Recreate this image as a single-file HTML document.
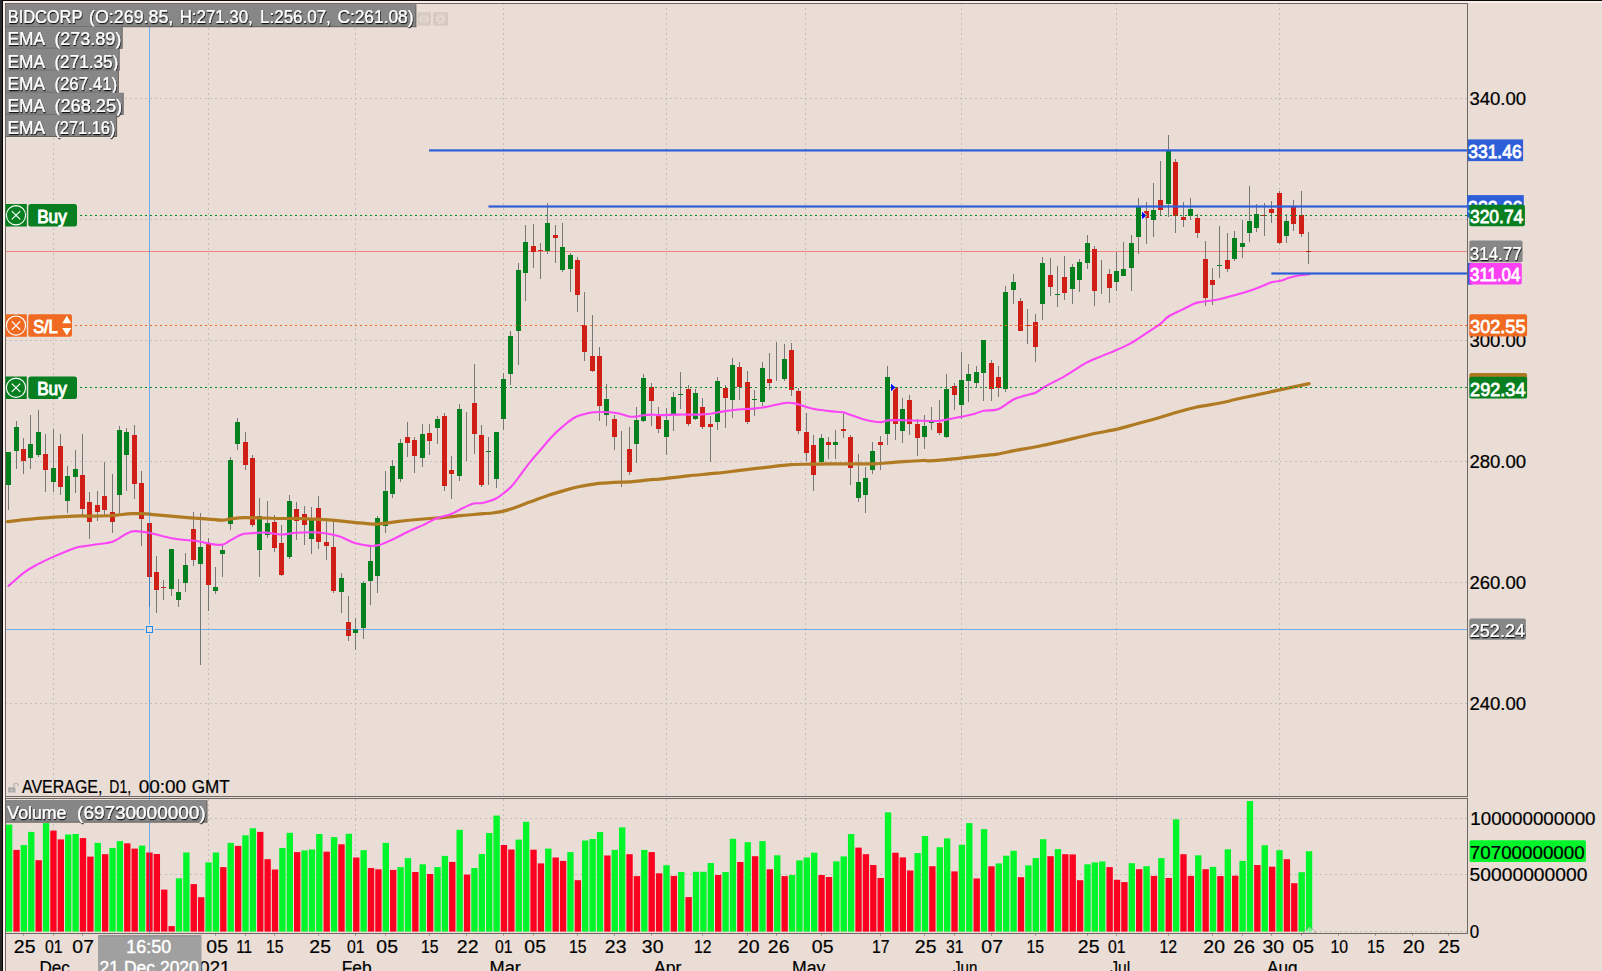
<!DOCTYPE html>
<html lang="en"><head><meta charset="utf-8"><title>BIDCORP chart</title>
<style>html,body{margin:0;padding:0;background:#E9DDD5;overflow:hidden}svg{display:block}</style></head>
<body>
<svg width="1602" height="971" viewBox="0 0 1602 971" font-family="'Liberation Sans', Arial, Helvetica, sans-serif" font-size="18.5">
<defs><filter id="sh" x="-5%" y="-20%" width="110%" height="150%"><feDropShadow dx="0.6" dy="1.2" stdDeviation="0.5" flood-color="#000" flood-opacity="0.9"/></filter></defs>
<rect width="1602" height="971" fill="#E9DDD5"/>
<rect x="0" y="0" width="1602" height="1" fill="#0c0c0c"/>
<rect x="3" y="1" width="1599" height="2" fill="#fbefe7"/>
<rect x="3" y="1" width="2" height="971" fill="#fbefe7"/>
<rect x="0" y="0" width="2" height="971" fill="#2a2929"/>
<rect x="2" y="0" width="1" height="971" fill="#050505"/>
<g stroke="#c4beba" stroke-width="1" stroke-dasharray="2 3" shape-rendering="crispEdges">
<line x1="53.5" y1="3" x2="53.5" y2="796" stroke-dashoffset="0"/>
<line x1="53.5" y1="799" x2="53.5" y2="932"/>
<line x1="208.5" y1="3" x2="208.5" y2="796" stroke-dashoffset="0"/>
<line x1="208.5" y1="799" x2="208.5" y2="932"/>
<line x1="355.5" y1="3" x2="355.5" y2="796" stroke-dashoffset="0"/>
<line x1="355.5" y1="799" x2="355.5" y2="932"/>
<line x1="503.5" y1="3" x2="503.5" y2="796" stroke-dashoffset="0"/>
<line x1="503.5" y1="799" x2="503.5" y2="932"/>
<line x1="666.5" y1="3" x2="666.5" y2="796" stroke-dashoffset="0"/>
<line x1="666.5" y1="799" x2="666.5" y2="932"/>
<line x1="805.5" y1="3" x2="805.5" y2="796" stroke-dashoffset="0"/>
<line x1="805.5" y1="799" x2="805.5" y2="932"/>
<line x1="961.5" y1="3" x2="961.5" y2="796" stroke-dashoffset="0"/>
<line x1="961.5" y1="799" x2="961.5" y2="932"/>
<line x1="1116.5" y1="3" x2="1116.5" y2="796" stroke-dashoffset="0"/>
<line x1="1116.5" y1="799" x2="1116.5" y2="932"/>
<line x1="1279.5" y1="3" x2="1279.5" y2="796" stroke-dashoffset="0"/>
<line x1="1279.5" y1="799" x2="1279.5" y2="932"/>
<line x1="5" y1="98.5" x2="1467" y2="98.5"/>
<line x1="5" y1="219.5" x2="1467" y2="219.5"/>
<line x1="5" y1="340.5" x2="1467" y2="340.5"/>
<line x1="5" y1="461.5" x2="1467" y2="461.5"/>
<line x1="5" y1="582.5" x2="1467" y2="582.5"/>
<line x1="5" y1="703.5" x2="1467" y2="703.5"/>
<line x1="5" y1="818.5" x2="1467" y2="818.5"/>
<line x1="5" y1="874.5" x2="1467" y2="874.5"/>
</g>
<rect x="5" y="251" width="1462" height="1" fill="#f0837a"/>
<g>
<rect x="5.95" y="824.6" width="6.35" height="107.0" fill="#00f52a"/>
<rect x="13.34" y="849.9" width="6.35" height="81.7" fill="#fb0320"/>
<rect x="20.72" y="845.0" width="6.35" height="86.6" fill="#00f52a"/>
<rect x="28.11" y="831.9" width="6.35" height="99.7" fill="#00f52a"/>
<rect x="35.49" y="860.2" width="6.35" height="71.4" fill="#fb0320"/>
<rect x="42.88" y="823.1" width="6.35" height="108.5" fill="#00f52a"/>
<rect x="50.27" y="830.6" width="6.35" height="101.0" fill="#fb0320"/>
<rect x="57.65" y="839.4" width="6.35" height="92.2" fill="#fb0320"/>
<rect x="65.04" y="834.5" width="6.35" height="97.1" fill="#00f52a"/>
<rect x="72.42" y="834.0" width="6.35" height="97.6" fill="#00f52a"/>
<rect x="79.81" y="838.1" width="6.35" height="93.5" fill="#fb0320"/>
<rect x="87.20" y="856.6" width="6.35" height="75.0" fill="#fb0320"/>
<rect x="94.58" y="842.9" width="6.35" height="88.7" fill="#00f52a"/>
<rect x="101.97" y="854.2" width="6.35" height="77.4" fill="#fb0320"/>
<rect x="109.35" y="848.0" width="6.35" height="83.6" fill="#00f52a"/>
<rect x="116.74" y="841.1" width="6.35" height="90.5" fill="#00f52a"/>
<rect x="124.13" y="843.3" width="6.35" height="88.3" fill="#fb0320"/>
<rect x="131.51" y="848.6" width="6.35" height="83.0" fill="#fb0320"/>
<rect x="138.90" y="845.6" width="6.35" height="86.0" fill="#00f52a"/>
<rect x="146.28" y="852.5" width="6.35" height="79.1" fill="#fb0320"/>
<rect x="153.67" y="854.0" width="6.35" height="77.6" fill="#fb0320"/>
<rect x="161.06" y="889.6" width="6.35" height="42.0" fill="#fb0320"/>
<rect x="168.44" y="926.1" width="6.35" height="5.5" fill="#fb0320"/>
<rect x="175.83" y="878.3" width="6.35" height="53.3" fill="#00f52a"/>
<rect x="183.21" y="852.5" width="6.35" height="79.1" fill="#00f52a"/>
<rect x="190.60" y="884.1" width="6.35" height="47.5" fill="#fb0320"/>
<rect x="197.99" y="897.2" width="6.35" height="34.4" fill="#fb0320"/>
<rect x="205.37" y="862.4" width="6.35" height="69.2" fill="#00f52a"/>
<rect x="212.76" y="852.5" width="6.35" height="79.1" fill="#00f52a"/>
<rect x="220.14" y="867.1" width="6.35" height="64.5" fill="#fb0320"/>
<rect x="227.53" y="842.9" width="6.35" height="88.7" fill="#00f52a"/>
<rect x="234.92" y="845.9" width="6.35" height="85.7" fill="#fb0320"/>
<rect x="242.30" y="835.3" width="6.35" height="96.3" fill="#00f52a"/>
<rect x="249.69" y="828.3" width="6.35" height="103.3" fill="#00f52a"/>
<rect x="257.07" y="831.9" width="6.35" height="99.7" fill="#fb0320"/>
<rect x="264.46" y="859.2" width="6.35" height="72.4" fill="#fb0320"/>
<rect x="271.85" y="869.5" width="6.35" height="62.1" fill="#fb0320"/>
<rect x="279.23" y="848.0" width="6.35" height="83.6" fill="#00f52a"/>
<rect x="286.62" y="832.8" width="6.35" height="98.8" fill="#00f52a"/>
<rect x="294.00" y="852.1" width="6.35" height="79.5" fill="#fb0320"/>
<rect x="301.39" y="850.4" width="6.35" height="81.2" fill="#00f52a"/>
<rect x="308.78" y="849.5" width="6.35" height="82.1" fill="#00f52a"/>
<rect x="316.16" y="834.0" width="6.35" height="97.6" fill="#00f52a"/>
<rect x="323.55" y="851.7" width="6.35" height="79.9" fill="#fb0320"/>
<rect x="330.93" y="837.1" width="6.35" height="94.5" fill="#00f52a"/>
<rect x="338.32" y="844.3" width="6.35" height="87.3" fill="#fb0320"/>
<rect x="345.71" y="833.8" width="6.35" height="97.8" fill="#00f52a"/>
<rect x="353.09" y="857.5" width="6.35" height="74.1" fill="#fb0320"/>
<rect x="360.48" y="850.2" width="6.35" height="81.4" fill="#00f52a"/>
<rect x="367.86" y="868.0" width="6.35" height="63.6" fill="#fb0320"/>
<rect x="375.25" y="869.3" width="6.35" height="62.3" fill="#fb0320"/>
<rect x="382.64" y="842.9" width="6.35" height="88.7" fill="#00f52a"/>
<rect x="390.02" y="869.9" width="6.35" height="61.7" fill="#fb0320"/>
<rect x="397.41" y="867.1" width="6.35" height="64.5" fill="#00f52a"/>
<rect x="404.79" y="858.1" width="6.35" height="73.5" fill="#00f52a"/>
<rect x="412.18" y="872.0" width="6.35" height="59.6" fill="#fb0320"/>
<rect x="419.57" y="864.3" width="6.35" height="67.3" fill="#00f52a"/>
<rect x="426.95" y="874.0" width="6.35" height="57.6" fill="#fb0320"/>
<rect x="434.34" y="867.1" width="6.35" height="64.5" fill="#00f52a"/>
<rect x="441.72" y="855.9" width="6.35" height="75.7" fill="#00f52a"/>
<rect x="449.11" y="861.9" width="6.35" height="69.7" fill="#fb0320"/>
<rect x="456.50" y="829.8" width="6.35" height="101.8" fill="#00f52a"/>
<rect x="463.88" y="874.6" width="6.35" height="57.0" fill="#fb0320"/>
<rect x="471.27" y="868.0" width="6.35" height="63.6" fill="#00f52a"/>
<rect x="478.65" y="854.0" width="6.35" height="77.6" fill="#00f52a"/>
<rect x="486.04" y="833.0" width="6.35" height="98.6" fill="#00f52a"/>
<rect x="493.43" y="815.6" width="6.35" height="116.0" fill="#00f52a"/>
<rect x="500.81" y="845.0" width="6.35" height="86.6" fill="#fb0320"/>
<rect x="508.20" y="849.5" width="6.35" height="82.1" fill="#fb0320"/>
<rect x="515.58" y="839.6" width="6.35" height="92.0" fill="#00f52a"/>
<rect x="522.97" y="821.8" width="6.35" height="109.8" fill="#00f52a"/>
<rect x="530.36" y="849.7" width="6.35" height="81.9" fill="#fb0320"/>
<rect x="537.74" y="863.4" width="6.35" height="68.2" fill="#fb0320"/>
<rect x="545.13" y="848.6" width="6.35" height="83.0" fill="#00f52a"/>
<rect x="552.51" y="857.5" width="6.35" height="74.1" fill="#fb0320"/>
<rect x="559.90" y="860.9" width="6.35" height="70.7" fill="#fb0320"/>
<rect x="567.29" y="852.1" width="6.35" height="79.5" fill="#00f52a"/>
<rect x="574.67" y="880.2" width="6.35" height="51.4" fill="#fb0320"/>
<rect x="582.06" y="840.5" width="6.35" height="91.1" fill="#00f52a"/>
<rect x="589.44" y="839.0" width="6.35" height="92.6" fill="#00f52a"/>
<rect x="596.83" y="832.1" width="6.35" height="99.5" fill="#00f52a"/>
<rect x="604.22" y="855.5" width="6.35" height="76.1" fill="#fb0320"/>
<rect x="611.60" y="849.9" width="6.35" height="81.7" fill="#00f52a"/>
<rect x="618.99" y="827.4" width="6.35" height="104.2" fill="#00f52a"/>
<rect x="626.37" y="854.2" width="6.35" height="77.4" fill="#fb0320"/>
<rect x="633.76" y="876.1" width="6.35" height="55.5" fill="#fb0320"/>
<rect x="641.15" y="849.9" width="6.35" height="81.7" fill="#00f52a"/>
<rect x="648.53" y="852.1" width="6.35" height="79.5" fill="#fb0320"/>
<rect x="655.92" y="873.3" width="6.35" height="58.3" fill="#fb0320"/>
<rect x="663.30" y="865.2" width="6.35" height="66.4" fill="#00f52a"/>
<rect x="670.69" y="875.9" width="6.35" height="55.7" fill="#fb0320"/>
<rect x="678.08" y="872.0" width="6.35" height="59.6" fill="#00f52a"/>
<rect x="685.46" y="897.1" width="6.35" height="34.5" fill="#fb0320"/>
<rect x="692.85" y="871.8" width="6.35" height="59.8" fill="#00f52a"/>
<rect x="700.23" y="871.8" width="6.35" height="59.8" fill="#00f52a"/>
<rect x="707.62" y="863.0" width="6.35" height="68.6" fill="#00f52a"/>
<rect x="715.01" y="875.0" width="6.35" height="56.6" fill="#fb0320"/>
<rect x="722.39" y="872.0" width="6.35" height="59.6" fill="#00f52a"/>
<rect x="729.78" y="838.8" width="6.35" height="92.8" fill="#00f52a"/>
<rect x="737.16" y="862.0" width="6.35" height="69.6" fill="#fb0320"/>
<rect x="744.55" y="842.2" width="6.35" height="89.4" fill="#00f52a"/>
<rect x="751.94" y="856.2" width="6.35" height="75.4" fill="#fb0320"/>
<rect x="759.32" y="841.1" width="6.35" height="90.5" fill="#00f52a"/>
<rect x="766.71" y="869.3" width="6.35" height="62.3" fill="#fb0320"/>
<rect x="774.09" y="855.3" width="6.35" height="76.3" fill="#00f52a"/>
<rect x="781.48" y="876.1" width="6.35" height="55.5" fill="#fb0320"/>
<rect x="788.87" y="875.0" width="6.35" height="56.6" fill="#00f52a"/>
<rect x="796.25" y="860.4" width="6.35" height="71.2" fill="#00f52a"/>
<rect x="803.64" y="857.5" width="6.35" height="74.1" fill="#00f52a"/>
<rect x="811.02" y="852.7" width="6.35" height="78.9" fill="#00f52a"/>
<rect x="818.41" y="875.0" width="6.35" height="56.6" fill="#fb0320"/>
<rect x="825.80" y="877.0" width="6.35" height="54.6" fill="#fb0320"/>
<rect x="833.18" y="861.3" width="6.35" height="70.3" fill="#00f52a"/>
<rect x="840.57" y="856.4" width="6.35" height="75.2" fill="#00f52a"/>
<rect x="847.95" y="834.1" width="6.35" height="97.5" fill="#00f52a"/>
<rect x="855.34" y="847.6" width="6.35" height="84.0" fill="#fb0320"/>
<rect x="862.73" y="854.2" width="6.35" height="77.4" fill="#fb0320"/>
<rect x="870.11" y="865.0" width="6.35" height="66.6" fill="#fb0320"/>
<rect x="877.50" y="878.0" width="6.35" height="53.6" fill="#fb0320"/>
<rect x="884.88" y="812.4" width="6.35" height="119.2" fill="#00f52a"/>
<rect x="892.27" y="852.7" width="6.35" height="78.9" fill="#fb0320"/>
<rect x="899.66" y="857.4" width="6.35" height="74.2" fill="#fb0320"/>
<rect x="907.04" y="870.5" width="6.35" height="61.1" fill="#fb0320"/>
<rect x="914.43" y="853.1" width="6.35" height="78.5" fill="#00f52a"/>
<rect x="921.81" y="836.0" width="6.35" height="95.6" fill="#00f52a"/>
<rect x="929.20" y="866.2" width="6.35" height="65.4" fill="#fb0320"/>
<rect x="936.59" y="847.2" width="6.35" height="84.4" fill="#00f52a"/>
<rect x="943.97" y="838.4" width="6.35" height="93.2" fill="#00f52a"/>
<rect x="951.36" y="871.4" width="6.35" height="60.2" fill="#fb0320"/>
<rect x="958.74" y="844.8" width="6.35" height="86.8" fill="#00f52a"/>
<rect x="966.13" y="823.1" width="6.35" height="108.5" fill="#00f52a"/>
<rect x="973.52" y="878.5" width="6.35" height="53.1" fill="#fb0320"/>
<rect x="980.90" y="829.1" width="6.35" height="102.5" fill="#00f52a"/>
<rect x="988.29" y="866.3" width="6.35" height="65.3" fill="#fb0320"/>
<rect x="995.67" y="863.4" width="6.35" height="68.2" fill="#00f52a"/>
<rect x="1003.06" y="855.7" width="6.35" height="75.9" fill="#00f52a"/>
<rect x="1010.45" y="850.8" width="6.35" height="80.8" fill="#00f52a"/>
<rect x="1017.83" y="877.2" width="6.35" height="54.4" fill="#fb0320"/>
<rect x="1025.22" y="865.4" width="6.35" height="66.2" fill="#00f52a"/>
<rect x="1032.60" y="858.1" width="6.35" height="73.5" fill="#00f52a"/>
<rect x="1039.99" y="839.2" width="6.35" height="92.4" fill="#00f52a"/>
<rect x="1047.38" y="856.2" width="6.35" height="75.4" fill="#fb0320"/>
<rect x="1054.76" y="849.1" width="6.35" height="82.5" fill="#00f52a"/>
<rect x="1062.15" y="854.2" width="6.35" height="77.4" fill="#fb0320"/>
<rect x="1069.53" y="854.4" width="6.35" height="77.2" fill="#fb0320"/>
<rect x="1076.92" y="880.2" width="6.35" height="51.4" fill="#fb0320"/>
<rect x="1084.31" y="864.3" width="6.35" height="67.3" fill="#00f52a"/>
<rect x="1091.69" y="862.4" width="6.35" height="69.2" fill="#00f52a"/>
<rect x="1099.08" y="861.5" width="6.35" height="70.1" fill="#00f52a"/>
<rect x="1106.46" y="867.1" width="6.35" height="64.5" fill="#fb0320"/>
<rect x="1113.85" y="879.8" width="6.35" height="51.8" fill="#fb0320"/>
<rect x="1121.24" y="882.1" width="6.35" height="49.5" fill="#fb0320"/>
<rect x="1128.62" y="863.2" width="6.35" height="68.4" fill="#00f52a"/>
<rect x="1136.01" y="869.2" width="6.35" height="62.4" fill="#fb0320"/>
<rect x="1143.39" y="866.2" width="6.35" height="65.4" fill="#00f52a"/>
<rect x="1150.78" y="875.9" width="6.35" height="55.7" fill="#fb0320"/>
<rect x="1158.17" y="858.1" width="6.35" height="73.5" fill="#00f52a"/>
<rect x="1165.55" y="878.0" width="6.35" height="53.6" fill="#fb0320"/>
<rect x="1172.94" y="819.3" width="6.35" height="112.3" fill="#00f52a"/>
<rect x="1180.32" y="854.2" width="6.35" height="77.4" fill="#fb0320"/>
<rect x="1187.71" y="875.9" width="6.35" height="55.7" fill="#fb0320"/>
<rect x="1195.10" y="855.3" width="6.35" height="76.3" fill="#00f52a"/>
<rect x="1202.48" y="869.2" width="6.35" height="62.4" fill="#fb0320"/>
<rect x="1209.87" y="866.9" width="6.35" height="64.7" fill="#00f52a"/>
<rect x="1217.25" y="876.1" width="6.35" height="55.5" fill="#fb0320"/>
<rect x="1224.64" y="849.3" width="6.35" height="82.3" fill="#00f52a"/>
<rect x="1232.03" y="875.7" width="6.35" height="55.9" fill="#fb0320"/>
<rect x="1239.41" y="860.9" width="6.35" height="70.7" fill="#00f52a"/>
<rect x="1246.80" y="801.0" width="6.35" height="130.6" fill="#00f52a"/>
<rect x="1254.18" y="865.0" width="6.35" height="66.6" fill="#fb0320"/>
<rect x="1261.57" y="845.2" width="6.35" height="86.4" fill="#00f52a"/>
<rect x="1268.96" y="866.7" width="6.35" height="64.9" fill="#fb0320"/>
<rect x="1276.34" y="850.2" width="6.35" height="81.4" fill="#00f52a"/>
<rect x="1283.73" y="859.2" width="6.35" height="72.4" fill="#fb0320"/>
<rect x="1291.11" y="883.2" width="6.35" height="48.4" fill="#fb0320"/>
<rect x="1298.50" y="872.2" width="6.35" height="59.4" fill="#00f52a"/>
<rect x="1305.89" y="851.2" width="6.35" height="80.4" fill="#00f52a"/>
</g>
<g shape-rendering="crispEdges">
<rect x="8" y="452" width="1" height="58" fill="#777"/>
<rect x="6" y="452" width="5" height="33" fill="#04801f"/>
<rect x="16" y="421" width="1" height="48" fill="#777"/>
<rect x="14" y="427" width="5" height="24" fill="#04801f"/>
<rect x="23" y="438" width="1" height="36" fill="#777"/>
<rect x="21" y="449" width="5" height="12" fill="#d11e17"/>
<rect x="30" y="415" width="1" height="54" fill="#777"/>
<rect x="28" y="444" width="5" height="14" fill="#04801f"/>
<rect x="38" y="410" width="1" height="47" fill="#777"/>
<rect x="36" y="432" width="5" height="23" fill="#04801f"/>
<rect x="45" y="434" width="1" height="58" fill="#777"/>
<rect x="43" y="454" width="5" height="16" fill="#d11e17"/>
<rect x="53" y="429" width="1" height="63" fill="#777"/>
<rect x="51" y="468" width="5" height="14" fill="#04801f"/>
<rect x="60" y="434" width="1" height="61" fill="#777"/>
<rect x="58" y="446" width="5" height="41" fill="#d11e17"/>
<rect x="67" y="466" width="1" height="47" fill="#777"/>
<rect x="65" y="476" width="5" height="25" fill="#04801f"/>
<rect x="75" y="450" width="1" height="43" fill="#777"/>
<rect x="73" y="469" width="5" height="8" fill="#04801f"/>
<rect x="82" y="434" width="1" height="81" fill="#777"/>
<rect x="80" y="475" width="5" height="34" fill="#d11e17"/>
<rect x="89" y="492" width="1" height="47" fill="#777"/>
<rect x="87" y="502" width="5" height="20" fill="#d11e17"/>
<rect x="97" y="491" width="1" height="30" fill="#777"/>
<rect x="95" y="505" width="5" height="7" fill="#d11e17"/>
<rect x="104" y="462" width="1" height="53" fill="#777"/>
<rect x="102" y="496" width="5" height="14" fill="#d11e17"/>
<rect x="112" y="474" width="1" height="59" fill="#777"/>
<rect x="110" y="512" width="5" height="10" fill="#d11e17"/>
<rect x="119" y="426" width="1" height="87" fill="#777"/>
<rect x="117" y="430" width="5" height="65" fill="#04801f"/>
<rect x="126" y="428" width="1" height="63" fill="#777"/>
<rect x="124" y="432" width="5" height="23" fill="#04801f"/>
<rect x="134" y="425" width="1" height="74" fill="#777"/>
<rect x="132" y="435" width="5" height="49" fill="#d11e17"/>
<rect x="141" y="471" width="1" height="75" fill="#777"/>
<rect x="139" y="483" width="5" height="36" fill="#d11e17"/>
<rect x="149" y="523" width="1" height="84" fill="#777"/>
<rect x="147" y="523" width="5" height="54" fill="#d11e17"/>
<rect x="156" y="556" width="1" height="57" fill="#777"/>
<rect x="154" y="572" width="5" height="18" fill="#d11e17"/>
<rect x="163" y="580" width="1" height="20" fill="#777"/>
<rect x="161" y="587" width="5" height="1" fill="#d11e17"/>
<rect x="171" y="549" width="1" height="47" fill="#777"/>
<rect x="169" y="549" width="5" height="40" fill="#04801f"/>
<rect x="178" y="579" width="1" height="28" fill="#777"/>
<rect x="176" y="592" width="5" height="8" fill="#04801f"/>
<rect x="185" y="553" width="1" height="39" fill="#777"/>
<rect x="183" y="565" width="5" height="18" fill="#04801f"/>
<rect x="193" y="512" width="1" height="54" fill="#777"/>
<rect x="191" y="529" width="5" height="31" fill="#d11e17"/>
<rect x="200" y="513" width="1" height="152" fill="#777"/>
<rect x="198" y="547" width="5" height="17" fill="#04801f"/>
<rect x="208" y="538" width="1" height="73" fill="#777"/>
<rect x="206" y="543" width="5" height="42" fill="#d11e17"/>
<rect x="215" y="567" width="1" height="27" fill="#777"/>
<rect x="213" y="587" width="5" height="4" fill="#04801f"/>
<rect x="222" y="545" width="1" height="32" fill="#777"/>
<rect x="220" y="550" width="5" height="4" fill="#04801f"/>
<rect x="230" y="457" width="1" height="73" fill="#777"/>
<rect x="228" y="460" width="5" height="64" fill="#04801f"/>
<rect x="237" y="418" width="1" height="32" fill="#777"/>
<rect x="235" y="422" width="5" height="22" fill="#04801f"/>
<rect x="245" y="432" width="1" height="38" fill="#777"/>
<rect x="243" y="442" width="5" height="23" fill="#d11e17"/>
<rect x="252" y="455" width="1" height="72" fill="#777"/>
<rect x="250" y="458" width="5" height="67" fill="#d11e17"/>
<rect x="259" y="498" width="1" height="79" fill="#777"/>
<rect x="257" y="516" width="5" height="34" fill="#04801f"/>
<rect x="267" y="501" width="1" height="37" fill="#777"/>
<rect x="265" y="523" width="5" height="12" fill="#04801f"/>
<rect x="274" y="515" width="1" height="37" fill="#777"/>
<rect x="272" y="522" width="5" height="26" fill="#d11e17"/>
<rect x="281" y="525" width="1" height="51" fill="#777"/>
<rect x="279" y="543" width="5" height="32" fill="#d11e17"/>
<rect x="289" y="495" width="1" height="64" fill="#777"/>
<rect x="287" y="501" width="5" height="56" fill="#04801f"/>
<rect x="296" y="502" width="1" height="38" fill="#777"/>
<rect x="294" y="509" width="5" height="12" fill="#d11e17"/>
<rect x="304" y="506" width="1" height="39" fill="#777"/>
<rect x="302" y="514" width="5" height="11" fill="#d11e17"/>
<rect x="311" y="507" width="1" height="47" fill="#777"/>
<rect x="309" y="519" width="5" height="20" fill="#04801f"/>
<rect x="318" y="496" width="1" height="53" fill="#777"/>
<rect x="316" y="508" width="5" height="34" fill="#d11e17"/>
<rect x="326" y="521" width="1" height="39" fill="#777"/>
<rect x="324" y="542" width="5" height="4" fill="#d11e17"/>
<rect x="333" y="521" width="1" height="72" fill="#777"/>
<rect x="331" y="547" width="5" height="44" fill="#d11e17"/>
<rect x="341" y="573" width="1" height="40" fill="#777"/>
<rect x="339" y="578" width="5" height="14" fill="#04801f"/>
<rect x="348" y="596" width="1" height="45" fill="#777"/>
<rect x="346" y="622" width="5" height="14" fill="#d11e17"/>
<rect x="355" y="618" width="1" height="32" fill="#777"/>
<rect x="353" y="629" width="5" height="4" fill="#04801f"/>
<rect x="363" y="581" width="1" height="58" fill="#777"/>
<rect x="361" y="583" width="5" height="45" fill="#04801f"/>
<rect x="370" y="546" width="1" height="59" fill="#777"/>
<rect x="368" y="561" width="5" height="20" fill="#04801f"/>
<rect x="377" y="516" width="1" height="77" fill="#777"/>
<rect x="375" y="518" width="5" height="58" fill="#04801f"/>
<rect x="385" y="471" width="1" height="62" fill="#777"/>
<rect x="383" y="491" width="5" height="35" fill="#04801f"/>
<rect x="392" y="460" width="1" height="38" fill="#777"/>
<rect x="390" y="466" width="5" height="28" fill="#04801f"/>
<rect x="400" y="439" width="1" height="43" fill="#777"/>
<rect x="398" y="443" width="5" height="36" fill="#04801f"/>
<rect x="407" y="422" width="1" height="35" fill="#777"/>
<rect x="405" y="437" width="5" height="6" fill="#d11e17"/>
<rect x="414" y="437" width="1" height="36" fill="#777"/>
<rect x="412" y="440" width="5" height="16" fill="#d11e17"/>
<rect x="422" y="424" width="1" height="43" fill="#777"/>
<rect x="420" y="434" width="5" height="24" fill="#04801f"/>
<rect x="429" y="424" width="1" height="31" fill="#777"/>
<rect x="427" y="433" width="5" height="8" fill="#d11e17"/>
<rect x="437" y="416" width="1" height="28" fill="#777"/>
<rect x="435" y="419" width="5" height="9" fill="#04801f"/>
<rect x="444" y="413" width="1" height="78" fill="#777"/>
<rect x="442" y="416" width="5" height="70" fill="#d11e17"/>
<rect x="451" y="456" width="1" height="43" fill="#777"/>
<rect x="449" y="470" width="5" height="4" fill="#d11e17"/>
<rect x="459" y="404" width="1" height="77" fill="#777"/>
<rect x="457" y="409" width="5" height="67" fill="#04801f"/>
<rect x="466" y="412" width="1" height="49" fill="#777"/>
<rect x="474" y="364" width="1" height="90" fill="#777"/>
<rect x="472" y="403" width="5" height="31" fill="#d11e17"/>
<rect x="481" y="425" width="1" height="62" fill="#777"/>
<rect x="479" y="435" width="5" height="50" fill="#d11e17"/>
<rect x="488" y="437" width="1" height="48" fill="#777"/>
<rect x="486" y="451" width="5" height="1" fill="#04801f"/>
<rect x="496" y="432" width="1" height="56" fill="#777"/>
<rect x="494" y="432" width="5" height="47" fill="#04801f"/>
<rect x="503" y="373" width="1" height="57" fill="#777"/>
<rect x="501" y="379" width="5" height="40" fill="#04801f"/>
<rect x="510" y="331" width="1" height="54" fill="#777"/>
<rect x="508" y="336" width="5" height="38" fill="#04801f"/>
<rect x="518" y="263" width="1" height="102" fill="#777"/>
<rect x="516" y="270" width="5" height="61" fill="#04801f"/>
<rect x="525" y="225" width="1" height="76" fill="#777"/>
<rect x="523" y="242" width="5" height="31" fill="#04801f"/>
<rect x="533" y="224" width="1" height="44" fill="#777"/>
<rect x="531" y="246" width="5" height="6" fill="#d11e17"/>
<rect x="540" y="243" width="1" height="36" fill="#777"/>
<rect x="538" y="250" width="5" height="1" fill="#d11e17"/>
<rect x="547" y="203" width="1" height="51" fill="#777"/>
<rect x="545" y="223" width="5" height="28" fill="#04801f"/>
<rect x="555" y="225" width="1" height="38" fill="#777"/>
<rect x="553" y="235" width="5" height="3" fill="#d11e17"/>
<rect x="562" y="223" width="1" height="49" fill="#777"/>
<rect x="560" y="247" width="5" height="23" fill="#04801f"/>
<rect x="570" y="253" width="1" height="39" fill="#777"/>
<rect x="568" y="255" width="5" height="14" fill="#04801f"/>
<rect x="577" y="257" width="1" height="55" fill="#777"/>
<rect x="575" y="260" width="5" height="35" fill="#d11e17"/>
<rect x="584" y="292" width="1" height="69" fill="#777"/>
<rect x="582" y="325" width="5" height="27" fill="#d11e17"/>
<rect x="592" y="315" width="1" height="57" fill="#777"/>
<rect x="590" y="356" width="5" height="15" fill="#d11e17"/>
<rect x="599" y="347" width="1" height="74" fill="#777"/>
<rect x="597" y="356" width="5" height="50" fill="#d11e17"/>
<rect x="606" y="384" width="1" height="42" fill="#777"/>
<rect x="604" y="399" width="5" height="16" fill="#04801f"/>
<rect x="614" y="415" width="1" height="35" fill="#777"/>
<rect x="612" y="419" width="5" height="18" fill="#d11e17"/>
<rect x="621" y="431" width="1" height="56" fill="#777"/>
<rect x="629" y="427" width="1" height="48" fill="#777"/>
<rect x="627" y="449" width="5" height="23" fill="#d11e17"/>
<rect x="636" y="407" width="1" height="56" fill="#777"/>
<rect x="634" y="420" width="5" height="24" fill="#04801f"/>
<rect x="643" y="374" width="1" height="48" fill="#777"/>
<rect x="641" y="378" width="5" height="43" fill="#04801f"/>
<rect x="651" y="383" width="1" height="43" fill="#777"/>
<rect x="649" y="387" width="5" height="14" fill="#d11e17"/>
<rect x="658" y="407" width="1" height="26" fill="#777"/>
<rect x="656" y="416" width="5" height="13" fill="#d11e17"/>
<rect x="666" y="408" width="1" height="47" fill="#777"/>
<rect x="664" y="420" width="5" height="17" fill="#04801f"/>
<rect x="673" y="392" width="1" height="39" fill="#777"/>
<rect x="671" y="397" width="5" height="17" fill="#04801f"/>
<rect x="680" y="372" width="1" height="37" fill="#777"/>
<rect x="678" y="394" width="5" height="1" fill="#04801f"/>
<rect x="688" y="385" width="1" height="41" fill="#777"/>
<rect x="686" y="389" width="5" height="35" fill="#d11e17"/>
<rect x="695" y="389" width="1" height="31" fill="#777"/>
<rect x="693" y="393" width="5" height="26" fill="#04801f"/>
<rect x="702" y="398" width="1" height="31" fill="#777"/>
<rect x="700" y="407" width="5" height="20" fill="#d11e17"/>
<rect x="710" y="416" width="1" height="46" fill="#777"/>
<rect x="708" y="424" width="5" height="3" fill="#d11e17"/>
<rect x="717" y="377" width="1" height="53" fill="#777"/>
<rect x="715" y="381" width="5" height="41" fill="#04801f"/>
<rect x="725" y="385" width="1" height="43" fill="#777"/>
<rect x="723" y="388" width="5" height="10" fill="#d11e17"/>
<rect x="732" y="358" width="1" height="60" fill="#777"/>
<rect x="730" y="365" width="5" height="35" fill="#04801f"/>
<rect x="739" y="362" width="1" height="38" fill="#777"/>
<rect x="737" y="367" width="5" height="20" fill="#d11e17"/>
<rect x="747" y="371" width="1" height="53" fill="#777"/>
<rect x="745" y="382" width="5" height="40" fill="#d11e17"/>
<rect x="754" y="390" width="1" height="26" fill="#777"/>
<rect x="752" y="399" width="5" height="1" fill="#04801f"/>
<rect x="762" y="362" width="1" height="44" fill="#777"/>
<rect x="760" y="368" width="5" height="34" fill="#04801f"/>
<rect x="769" y="353" width="1" height="37" fill="#777"/>
<rect x="767" y="379" width="5" height="4" fill="#d11e17"/>
<rect x="776" y="342" width="1" height="39" fill="#777"/>
<rect x="784" y="344" width="1" height="37" fill="#777"/>
<rect x="782" y="359" width="5" height="20" fill="#04801f"/>
<rect x="791" y="343" width="1" height="53" fill="#777"/>
<rect x="789" y="350" width="5" height="40" fill="#d11e17"/>
<rect x="798" y="388" width="1" height="46" fill="#777"/>
<rect x="796" y="391" width="5" height="40" fill="#d11e17"/>
<rect x="806" y="413" width="1" height="48" fill="#777"/>
<rect x="804" y="432" width="5" height="21" fill="#d11e17"/>
<rect x="813" y="435" width="1" height="56" fill="#777"/>
<rect x="811" y="445" width="5" height="30" fill="#d11e17"/>
<rect x="821" y="434" width="1" height="30" fill="#777"/>
<rect x="819" y="438" width="5" height="24" fill="#04801f"/>
<rect x="828" y="437" width="1" height="22" fill="#777"/>
<rect x="826" y="442" width="5" height="3" fill="#d11e17"/>
<rect x="835" y="430" width="1" height="29" fill="#777"/>
<rect x="833" y="442" width="5" height="3" fill="#04801f"/>
<rect x="843" y="413" width="1" height="25" fill="#777"/>
<rect x="841" y="429" width="5" height="2" fill="#d11e17"/>
<rect x="850" y="435" width="1" height="50" fill="#777"/>
<rect x="848" y="437" width="5" height="31" fill="#d11e17"/>
<rect x="858" y="454" width="1" height="48" fill="#777"/>
<rect x="856" y="482" width="5" height="16" fill="#04801f"/>
<rect x="865" y="467" width="1" height="46" fill="#777"/>
<rect x="863" y="478" width="5" height="17" fill="#04801f"/>
<rect x="872" y="442" width="1" height="32" fill="#777"/>
<rect x="870" y="451" width="5" height="19" fill="#04801f"/>
<rect x="880" y="436" width="1" height="34" fill="#777"/>
<rect x="878" y="442" width="5" height="3" fill="#d11e17"/>
<rect x="887" y="366" width="1" height="79" fill="#777"/>
<rect x="885" y="377" width="5" height="57" fill="#04801f"/>
<rect x="895" y="387" width="1" height="53" fill="#777"/>
<rect x="893" y="387" width="5" height="37" fill="#d11e17"/>
<rect x="902" y="398" width="1" height="45" fill="#777"/>
<rect x="900" y="409" width="5" height="22" fill="#04801f"/>
<rect x="909" y="395" width="1" height="40" fill="#777"/>
<rect x="907" y="400" width="5" height="24" fill="#d11e17"/>
<rect x="917" y="419" width="1" height="37" fill="#777"/>
<rect x="915" y="424" width="5" height="14" fill="#d11e17"/>
<rect x="924" y="415" width="1" height="34" fill="#777"/>
<rect x="922" y="426" width="5" height="11" fill="#04801f"/>
<rect x="931" y="407" width="1" height="23" fill="#777"/>
<rect x="929" y="422" width="5" height="1" fill="#04801f"/>
<rect x="939" y="400" width="1" height="35" fill="#777"/>
<rect x="937" y="423" width="5" height="10" fill="#d11e17"/>
<rect x="946" y="374" width="1" height="64" fill="#777"/>
<rect x="944" y="389" width="5" height="48" fill="#04801f"/>
<rect x="954" y="383" width="1" height="27" fill="#777"/>
<rect x="952" y="386" width="5" height="9" fill="#d11e17"/>
<rect x="961" y="352" width="1" height="67" fill="#777"/>
<rect x="959" y="380" width="5" height="25" fill="#04801f"/>
<rect x="968" y="364" width="1" height="38" fill="#777"/>
<rect x="966" y="374" width="5" height="7" fill="#04801f"/>
<rect x="976" y="366" width="1" height="21" fill="#777"/>
<rect x="974" y="372" width="5" height="11" fill="#04801f"/>
<rect x="983" y="340" width="1" height="61" fill="#777"/>
<rect x="981" y="340" width="5" height="33" fill="#04801f"/>
<rect x="991" y="360" width="1" height="41" fill="#777"/>
<rect x="989" y="363" width="5" height="26" fill="#d11e17"/>
<rect x="998" y="366" width="1" height="31" fill="#777"/>
<rect x="996" y="377" width="5" height="11" fill="#d11e17"/>
<rect x="1005" y="286" width="1" height="106" fill="#777"/>
<rect x="1003" y="292" width="5" height="97" fill="#04801f"/>
<rect x="1013" y="274" width="1" height="30" fill="#777"/>
<rect x="1011" y="282" width="5" height="8" fill="#04801f"/>
<rect x="1020" y="298" width="1" height="33" fill="#777"/>
<rect x="1018" y="301" width="5" height="30" fill="#d11e17"/>
<rect x="1027" y="309" width="1" height="35" fill="#777"/>
<rect x="1025" y="325" width="5" height="1" fill="#d11e17"/>
<rect x="1035" y="314" width="1" height="48" fill="#777"/>
<rect x="1033" y="322" width="5" height="25" fill="#d11e17"/>
<rect x="1042" y="257" width="1" height="63" fill="#777"/>
<rect x="1040" y="263" width="5" height="41" fill="#04801f"/>
<rect x="1050" y="258" width="1" height="38" fill="#777"/>
<rect x="1048" y="275" width="5" height="12" fill="#d11e17"/>
<rect x="1057" y="266" width="1" height="41" fill="#777"/>
<rect x="1055" y="294" width="5" height="1" fill="#04801f"/>
<rect x="1064" y="256" width="1" height="44" fill="#777"/>
<rect x="1062" y="277" width="5" height="16" fill="#d11e17"/>
<rect x="1072" y="264" width="1" height="40" fill="#777"/>
<rect x="1070" y="267" width="5" height="22" fill="#04801f"/>
<rect x="1079" y="259" width="1" height="33" fill="#777"/>
<rect x="1077" y="262" width="5" height="18" fill="#04801f"/>
<rect x="1087" y="235" width="1" height="34" fill="#777"/>
<rect x="1085" y="243" width="5" height="20" fill="#04801f"/>
<rect x="1094" y="246" width="1" height="60" fill="#777"/>
<rect x="1092" y="249" width="5" height="42" fill="#d11e17"/>
<rect x="1101" y="260" width="1" height="34" fill="#777"/>
<rect x="1109" y="269" width="1" height="34" fill="#777"/>
<rect x="1107" y="274" width="5" height="14" fill="#d11e17"/>
<rect x="1116" y="252" width="1" height="39" fill="#777"/>
<rect x="1114" y="271" width="5" height="11" fill="#04801f"/>
<rect x="1123" y="242" width="1" height="34" fill="#777"/>
<rect x="1121" y="269" width="5" height="7" fill="#04801f"/>
<rect x="1131" y="235" width="1" height="56" fill="#777"/>
<rect x="1129" y="243" width="5" height="25" fill="#04801f"/>
<rect x="1138" y="198" width="1" height="56" fill="#777"/>
<rect x="1136" y="207" width="5" height="30" fill="#04801f"/>
<rect x="1146" y="202" width="1" height="42" fill="#777"/>
<rect x="1144" y="211" width="5" height="7" fill="#d11e17"/>
<rect x="1153" y="183" width="1" height="54" fill="#777"/>
<rect x="1151" y="210" width="5" height="10" fill="#04801f"/>
<rect x="1160" y="161" width="1" height="55" fill="#777"/>
<rect x="1158" y="200" width="5" height="10" fill="#d11e17"/>
<rect x="1168" y="135" width="1" height="82" fill="#777"/>
<rect x="1166" y="151" width="5" height="53" fill="#04801f"/>
<rect x="1175" y="159" width="1" height="74" fill="#777"/>
<rect x="1173" y="162" width="5" height="54" fill="#d11e17"/>
<rect x="1183" y="202" width="1" height="25" fill="#777"/>
<rect x="1181" y="217" width="5" height="3" fill="#d11e17"/>
<rect x="1190" y="198" width="1" height="22" fill="#777"/>
<rect x="1188" y="209" width="5" height="7" fill="#04801f"/>
<rect x="1197" y="214" width="1" height="24" fill="#777"/>
<rect x="1195" y="218" width="5" height="15" fill="#d11e17"/>
<rect x="1205" y="241" width="1" height="65" fill="#777"/>
<rect x="1203" y="259" width="5" height="39" fill="#d11e17"/>
<rect x="1212" y="268" width="1" height="37" fill="#777"/>
<rect x="1210" y="280" width="5" height="5" fill="#d11e17"/>
<rect x="1219" y="226" width="1" height="52" fill="#777"/>
<rect x="1217" y="265" width="5" height="1" fill="#04801f"/>
<rect x="1227" y="233" width="1" height="39" fill="#777"/>
<rect x="1225" y="260" width="5" height="9" fill="#d11e17"/>
<rect x="1234" y="231" width="1" height="30" fill="#777"/>
<rect x="1232" y="238" width="5" height="21" fill="#04801f"/>
<rect x="1242" y="220" width="1" height="38" fill="#777"/>
<rect x="1240" y="243" width="5" height="4" fill="#04801f"/>
<rect x="1249" y="186" width="1" height="56" fill="#777"/>
<rect x="1247" y="221" width="5" height="12" fill="#04801f"/>
<rect x="1256" y="204" width="1" height="28" fill="#777"/>
<rect x="1254" y="214" width="5" height="14" fill="#04801f"/>
<rect x="1264" y="203" width="1" height="33" fill="#777"/>
<rect x="1262" y="215" width="5" height="1" fill="#d11e17"/>
<rect x="1271" y="201" width="1" height="22" fill="#777"/>
<rect x="1269" y="209" width="5" height="4" fill="#d11e17"/>
<rect x="1279" y="191" width="1" height="53" fill="#777"/>
<rect x="1277" y="193" width="5" height="50" fill="#d11e17"/>
<rect x="1286" y="214" width="1" height="29" fill="#777"/>
<rect x="1284" y="221" width="5" height="15" fill="#04801f"/>
<rect x="1293" y="200" width="1" height="31" fill="#777"/>
<rect x="1291" y="207" width="5" height="17" fill="#d11e17"/>
<rect x="1301" y="191" width="1" height="46" fill="#777"/>
<rect x="1299" y="215" width="5" height="19" fill="#d11e17"/>
<rect x="1308" y="232" width="1" height="32" fill="#777"/>
<rect x="1306" y="251" width="5" height="1" fill="#d11e17"/>
</g>
<path d="M7.5 521.7C12.5 521.2 26.2 519.3 37.5 518.4C48.7 517.4 65.5 516.5 74.9 516.1C84.3 515.7 87.4 516.2 93.6 516.1C99.9 516.0 106.1 515.9 112.4 515.5C118.6 515.1 126.1 514.0 131.1 513.7C136.1 513.4 137.6 513.4 142.3 513.7C147.0 513.9 151.7 514.5 159.2 515.2C166.7 515.8 179.5 517.0 187.3 517.6C195.1 518.2 200.1 518.5 206.0 518.9C211.9 519.4 218.8 520.2 222.8 520.2C226.9 520.2 226.9 519.4 230.3 518.9C233.8 518.5 238.1 517.8 243.4 517.6C248.8 517.4 255.9 517.8 262.2 518.0C268.4 518.1 274.7 518.4 280.9 518.5C287.1 518.6 292.3 518.4 299.6 518.5C306.9 518.7 313.0 518.8 324.7 519.7C336.4 520.5 360.4 523.1 369.7 523.8C378.9 524.5 375.2 524.2 380.0 523.8C384.8 523.4 392.5 522.1 398.7 521.4C405.0 520.7 411.2 520.1 417.5 519.5C423.7 519.0 429.9 518.5 436.2 518.0C442.4 517.5 448.7 516.9 454.9 516.3C461.1 515.7 467.4 515.0 473.6 514.5C479.9 513.9 487.4 513.5 492.4 513.0C497.4 512.4 499.9 512.0 503.6 511.1C507.3 510.2 510.5 509.2 514.8 507.7C519.2 506.2 524.2 504.2 529.8 502.1C535.4 500.0 542.3 497.3 548.5 495.2C554.8 493.1 562.3 491.0 567.3 489.6C572.3 488.1 573.8 487.7 578.5 486.7C583.2 485.8 589.4 484.7 595.4 483.9C601.3 483.2 607.8 482.8 614.1 482.4C620.3 482.1 626.6 482.2 632.8 481.7C639.1 481.2 647.0 480.0 651.5 479.6C656.1 479.2 653.9 479.8 660.0 479.2C666.1 478.6 678.7 476.8 688.1 475.8C697.5 474.8 706.8 474.2 716.2 473.2C725.5 472.2 734.9 470.9 744.3 469.8C753.6 468.7 764.6 467.5 772.4 466.6C780.2 465.8 784.8 465.0 791.1 464.6C797.3 464.2 803.6 464.3 809.8 464.2C816.1 464.1 820.7 463.9 828.5 463.8C836.3 463.8 848.8 463.8 856.6 463.8C864.4 463.8 869.1 464.1 875.4 463.8C881.6 463.6 886.3 462.9 894.1 462.3C901.9 461.8 916.2 460.7 922.2 460.5C928.2 460.2 925.6 461.1 930.0 460.9C934.4 460.7 942.5 460.0 948.7 459.4C955.0 458.8 961.2 458.0 967.5 457.3C973.7 456.7 981.2 455.8 986.2 455.3C991.2 454.8 992.7 454.9 997.4 454.2C1002.1 453.4 1008.0 451.8 1014.3 450.6C1020.5 449.4 1027.1 448.6 1034.9 447.0C1042.7 445.5 1052.0 443.5 1061.1 441.4C1070.1 439.4 1079.8 436.7 1089.2 434.7C1098.5 432.6 1109.5 430.8 1117.3 429.1C1125.1 427.3 1129.8 425.7 1136.0 424.0C1142.2 422.3 1148.5 420.7 1154.7 419.0C1161.0 417.2 1166.6 415.3 1173.4 413.3C1180.3 411.4 1189.7 408.6 1195.9 407.2C1202.2 405.7 1205.3 405.7 1210.9 404.7C1216.5 403.7 1224.8 402.0 1229.6 401.0C1234.4 399.9 1226.4 401.4 1239.6 398.5C1252.9 395.6 1297.4 386.1 1309.0 383.6" fill="none" stroke="#b07a22" stroke-width="3.2" stroke-linejoin="round" stroke-linecap="round"/>
<path d="M8.5 586.0C11.1 583.7 19.5 575.9 24.3 572.3C29.2 568.7 32.5 567.1 37.5 564.4C42.4 561.8 48.1 559.1 54.3 556.4C60.5 553.6 69.9 549.7 74.9 547.9C79.9 546.2 80.5 546.7 84.3 546.1C88.0 545.4 92.7 544.9 97.4 544.2C102.1 543.5 107.4 543.6 112.4 541.8C117.4 540.0 123.6 535.1 127.3 533.3C131.1 531.6 131.1 531.1 134.8 531.1C138.6 531.0 144.8 532.0 149.8 533.0C154.8 533.9 159.8 535.6 164.8 536.7C169.8 537.8 174.8 538.8 179.8 539.5C184.8 540.2 190.1 540.2 194.8 540.8C199.4 541.4 204.4 542.6 207.9 543.3C211.3 543.9 212.9 544.4 215.4 544.6C217.9 544.8 220.3 545.3 222.8 544.6C225.3 543.9 227.2 542.1 230.3 540.4C233.5 538.8 238.1 535.6 241.6 534.5C245.0 533.3 246.9 533.6 250.9 533.3C255.0 533.0 260.9 532.4 265.9 532.6C270.9 532.8 275.8 534.4 280.9 534.5C286.0 534.5 291.5 533.1 296.6 532.8C301.7 532.4 306.9 532.1 311.6 532.2C316.3 532.3 320.0 532.6 324.7 533.3C329.4 534.1 334.7 534.9 339.7 536.5C344.7 538.1 349.7 541.5 354.7 543.1C359.7 544.6 365.4 545.6 369.7 545.9C373.9 546.2 376.1 545.9 380.0 544.8C383.9 543.7 388.4 541.4 393.1 539.2C397.8 537.0 403.1 534.0 408.1 531.7C413.1 529.3 418.4 527.3 423.1 525.1C427.8 522.9 431.5 520.4 436.2 518.6C440.9 516.7 446.8 515.6 451.2 513.9C455.5 512.2 458.7 510.0 462.4 508.3C466.1 506.6 470.5 504.4 473.6 503.6C476.8 502.8 478.6 503.6 481.1 503.2C483.6 502.8 486.1 502.1 488.6 501.3C491.1 500.6 493.6 499.9 496.1 498.5C498.6 497.2 501.1 495.3 503.6 493.3C506.1 491.3 508.6 489.4 511.1 486.7C513.6 484.1 515.5 481.4 518.6 477.4C521.7 473.3 526.1 467.1 529.8 462.4C533.6 457.7 537.3 453.7 541.0 449.3C544.8 444.9 548.5 440.1 552.3 436.2C556.0 432.3 559.8 429.0 563.5 425.9C567.3 422.8 571.0 419.5 574.8 417.5C578.5 415.4 582.9 414.6 586.0 413.7C589.1 412.8 589.4 412.5 593.5 412.2C597.5 412.0 606.0 412.0 610.3 412.2C614.7 412.5 616.6 413.0 619.7 413.7C622.8 414.4 626.3 416.0 629.1 416.5C631.9 417.0 634.1 416.7 636.6 416.5C639.1 416.3 641.5 415.5 644.0 415.2C646.5 414.9 648.9 414.7 651.5 414.6C654.2 414.6 655.5 415.2 660.0 415.1C664.5 415.1 672.5 414.7 678.7 414.6C685.0 414.5 692.1 414.7 697.5 414.6C702.8 414.4 706.2 414.2 710.6 413.7C714.9 413.1 719.0 412.1 723.7 411.4C728.4 410.7 733.7 410.0 738.7 409.5C743.6 409.1 749.3 409.0 753.6 408.6C758.0 408.2 761.1 407.8 764.9 407.1C768.6 406.4 772.4 405.4 776.1 404.7C779.9 403.9 784.2 403.0 787.3 402.8C790.5 402.6 792.0 402.8 794.8 403.4C797.6 403.9 801.1 405.2 804.2 406.2C807.3 407.1 810.1 408.3 813.6 409.0C817.0 409.7 821.0 410.0 824.8 410.5C828.5 410.9 832.9 411.5 836.0 411.8C839.2 412.1 841.0 411.8 843.5 412.3C846.0 412.9 847.9 414.1 851.0 415.1C854.1 416.2 858.5 417.8 862.2 418.9C866.0 420.0 870.4 421.0 873.5 421.5C876.6 422.0 878.5 422.3 881.0 422.1C883.5 421.9 884.7 420.7 888.5 420.4C892.2 420.1 897.8 420.1 903.4 420.2C909.1 420.3 916.1 420.7 922.2 420.8C928.3 420.9 933.9 421.4 940.0 420.8C946.1 420.2 953.1 418.4 958.7 417.2C964.3 416.1 969.5 415.0 973.7 413.9C977.9 412.8 980.0 411.5 984.0 410.7C988.1 409.9 993.2 411.0 998.1 409.2C1002.9 407.4 1008.7 402.1 1013.0 399.8C1017.4 397.6 1020.5 396.9 1024.3 395.7C1028.0 394.5 1032.1 394.2 1035.5 392.7C1038.9 391.2 1040.2 389.4 1044.9 386.7C1049.6 384.1 1058.6 379.6 1063.6 376.8C1068.6 374.0 1070.9 372.3 1074.8 369.9C1078.7 367.4 1082.6 364.6 1087.0 362.4C1091.4 360.1 1096.2 358.4 1101.0 356.4C1105.9 354.3 1111.0 352.4 1116.0 350.2C1121.0 348.0 1126.0 345.9 1131.0 343.1C1136.0 340.3 1141.3 336.4 1146.0 333.3C1150.7 330.3 1155.4 327.7 1159.1 324.9C1162.8 322.1 1164.7 319.0 1168.5 316.5C1172.2 314.0 1177.8 311.8 1181.6 309.9C1185.3 308.1 1188.1 306.5 1190.9 305.2C1193.7 304.0 1194.1 303.3 1198.4 302.4C1202.7 301.5 1210.5 301.0 1216.6 299.8C1222.8 298.6 1229.0 296.9 1235.4 295.1C1241.8 293.3 1249.0 291.1 1255.0 289.0C1261.0 286.9 1267.4 283.6 1271.5 282.3C1275.6 281.0 1276.4 281.8 1279.5 281.0C1282.6 280.2 1286.6 278.6 1290.0 277.6C1293.4 276.6 1296.8 275.8 1300.0 275.2C1303.2 274.6 1307.9 274.4 1309.5 274.2" fill="none" stroke="#fb45f6" stroke-width="2.1" stroke-linejoin="round" stroke-linecap="round"/>
<path d="M890 382.1L896.6 387.5L890 392.9Z" fill="#f1e8e3"/>
<path d="M891 383.7L895.4 387.5L891 391.3Z" fill="#0000ff"/>
<path d="M1141 210.1L1147.6 215.5L1141 220.9Z" fill="#f1e8e3"/>
<path d="M1142 211.7L1146.4 215.5L1142 219.3Z" fill="#0000ff"/>
<rect x="429" y="149.3" width="1038" height="2.2" fill="#2f5fd8"/>
<rect x="488.5" y="205.4" width="978.5" height="2.2" fill="#2f5fd8"/>
<rect x="1271.3" y="272.4" width="195.7" height="2.2" fill="#2f5fd8"/>
<g stroke-width="1.4" stroke-dasharray="2 3" shape-rendering="crispEdges">
<line x1="80" y1="215.5" x2="1467" y2="215.5" stroke="#058a25"/>
<line x1="75" y1="325.5" x2="1467" y2="325.5" stroke="#f06a22"/>
<line x1="80" y1="387.5" x2="1467" y2="387.5" stroke="#058a25"/>
</g>
<line x1="1315" y1="931.5" x2="1467" y2="931.5" stroke="#c4beba" stroke-width="1" stroke-dasharray="2 3" shape-rendering="crispEdges"/>
<path d="M1302.8 933L1309.5 926.3L1316.3 933Z" fill="#ffffff" fill-opacity="0.45" stroke="#5a5a55" stroke-opacity="0.55" stroke-width="0.8"/>
<g fill="none" stroke="#6e6964" stroke-width="1" shape-rendering="crispEdges">
<rect x="5.5" y="3.5" width="1462" height="793"/>
<rect x="5.5" y="798.5" width="1462" height="135"/>
</g>
<rect x="5" y="3" width="1" height="971" fill="#6e6964"/>
<text x="1469.41" y="105.0" fill="#000" font-weight="normal" font-size="18.5" textLength="56.74" lengthAdjust="spacingAndGlyphs" stroke="#000" stroke-width="0.22">340.00</text>
<text x="1469.41" y="347.0" fill="#000" font-weight="normal" font-size="18.5" textLength="56.74" lengthAdjust="spacingAndGlyphs" stroke="#000" stroke-width="0.22">300.00</text>
<text x="1469.41" y="468.0" fill="#000" font-weight="normal" font-size="18.5" textLength="56.74" lengthAdjust="spacingAndGlyphs" stroke="#000" stroke-width="0.22">280.00</text>
<text x="1469.41" y="589.0" fill="#000" font-weight="normal" font-size="18.5" textLength="56.74" lengthAdjust="spacingAndGlyphs" stroke="#000" stroke-width="0.22">260.00</text>
<text x="1469.41" y="710.0" fill="#000" font-weight="normal" font-size="18.5" textLength="56.74" lengthAdjust="spacingAndGlyphs" stroke="#000" stroke-width="0.22">240.00</text>
<text x="1470.31" y="825" fill="#000" font-weight="normal" font-size="18.5" textLength="125.25" lengthAdjust="spacingAndGlyphs" stroke="#000" stroke-width="0.22">100000000000</text>
<text x="1469.61" y="881" fill="#000" font-weight="normal" font-size="18.5" textLength="117.83" lengthAdjust="spacingAndGlyphs" stroke="#000" stroke-width="0.22">50000000000</text>
<text x="1469.70" y="937.6" fill="#000" font-weight="normal" font-size="18.5" textLength="9.43" lengthAdjust="spacingAndGlyphs" stroke="#000" stroke-width="0.22">0</text>
<rect x="1468" y="139.4" width="55.1" height="21.7" rx="0" fill="#2f5fd8"/>
<text x="1468.28" y="157.9" fill="#fff" font-weight="normal" font-size="18.5" textLength="53.31" lengthAdjust="spacingAndGlyphs" stroke="#fff" stroke-width="0.8">331.46</text>
<rect x="1467.2" y="195.1" width="56.6" height="22.4" rx="0" fill="#2f5fd8"/>
<text x="1468.08" y="213.9" fill="#fff" font-weight="normal" font-size="18.5" textLength="54.39" lengthAdjust="spacingAndGlyphs" stroke="#fff" stroke-width="0.8">322.06</text>
<rect x="1467" y="205" width="3" height="2" fill="#2f5fd8"/>
<rect x="1469.4" y="204.8" width="55.5" height="21.4" rx="2" fill="#077f20"/>
<text x="1469.98" y="222.9" fill="#fff" font-weight="normal" font-size="18.5" textLength="53.31" lengthAdjust="spacingAndGlyphs" stroke="#fff" stroke-width="0.8">320.74</text>
<rect x="1469.3" y="240.5" width="53.3" height="21.7" rx="2" fill="#878787"/>
<text x="1469.80" y="259.5" fill="#fff" font-weight="normal" font-size="18.5" textLength="51.86" lengthAdjust="spacingAndGlyphs" filter="url(#sh)" stroke="#fff" stroke-width="0.22">314.77</text>
<rect x="1468" y="262.9" width="4" height="21.8" fill="#2f5fd8"/>
<rect x="1469.3" y="262.9" width="52.5" height="21.7" rx="2" fill="#fb3ff2"/>
<text x="1470.06" y="281.4" fill="#fff" font-weight="normal" font-size="18.5" textLength="50.34" lengthAdjust="spacingAndGlyphs" stroke="#fff" stroke-width="0.8">311.04</text>
<rect x="1469.3" y="314.3" width="57.8" height="22.1" rx="2" fill="#f06a22"/>
<text x="1470.09" y="333.0" fill="#fff" font-weight="normal" font-size="18.5" textLength="55.38" lengthAdjust="spacingAndGlyphs" stroke="#fff" stroke-width="0.8">302.55</text>
<rect x="1469.3" y="373" width="57.8" height="10" rx="2" fill="#b07a22"/>
<rect x="1469.3" y="376.8" width="57.8" height="21.7" rx="2" fill="#077f20"/>
<text x="1470.09" y="395.6" fill="#fff" font-weight="normal" font-size="18.5" textLength="55.38" lengthAdjust="spacingAndGlyphs" stroke="#fff" stroke-width="0.8">292.34</text>
<rect x="1469.3" y="618.5" width="56.6" height="21.2" rx="2" fill="#878787"/>
<text x="1469.81" y="637.1" fill="#fff" font-weight="normal" font-size="18.5" textLength="55.15" lengthAdjust="spacingAndGlyphs" filter="url(#sh)" stroke="#fff" stroke-width="0.22">252.24</text>
<rect x="1469.6" y="840.2" width="116.3" height="21.9" rx="1.5" fill="#00f52a"/>
<text x="1469.81" y="858.7" fill="#000" font-weight="normal" font-size="18.5" textLength="114.93" lengthAdjust="spacingAndGlyphs" stroke="#000" stroke-width="0.22">70700000000</text>
<rect x="417.5" y="12.2" width="13.5" height="13.4" fill="#d6cac3"/><rect x="433.1" y="12.2" width="14.9" height="13.4" fill="#d6cac3"/>
<ellipse cx="424" cy="19" rx="5" ry="3.7" fill="#e6dad2"/><circle cx="424" cy="19" r="2.5" fill="#d6cac3"/><circle cx="424" cy="19" r="1.1" fill="#e6dad2"/>
<circle cx="440.5" cy="19" r="3.7" fill="none" stroke="#e6dad2" stroke-width="2.6" stroke-dasharray="1.7 1.2"/><circle cx="440.5" cy="19" r="2.6" fill="none" stroke="#e6dad2" stroke-width="1.6"/>
<rect x="8.1" y="787.2" width="7.4" height="5.4" rx="0.6" fill="#adadad"/><circle cx="11.7" cy="790.2" r="0.8" fill="#dcdcdc"/>
<path d="M13.9 787.4V785.5A2.1 2.3 0 0 1 18.1 785.4V786.3" fill="none" stroke="#bcb8b5" stroke-width="1.3"/>
<text y="793" fill="#000" font-weight="normal" font-size="18.5" stroke="#000" stroke-width="0.22" xml:space="preserve"><tspan x="22.00" textLength="80.37" lengthAdjust="spacingAndGlyphs">AVERAGE,</tspan> <tspan x="109.30" textLength="21.73" lengthAdjust="spacingAndGlyphs">D1,</tspan> <tspan x="138.70" textLength="47.35" lengthAdjust="spacingAndGlyphs">00:00</tspan> <tspan x="191.70" textLength="37.98" lengthAdjust="spacingAndGlyphs">GMT</tspan></text>
<rect x="5.5" y="204" width="21.3" height="22.5" fill="#077f20"/>
<circle cx="16" cy="215.25" r="9.6" fill="none" stroke="#fff" stroke-width="1.1"/>
<path d="M11.8 211.05l8.4 8.4M20.2 211.05l-8.4 8.4" stroke="#fff" stroke-width="1.2" fill="none"/>
<rect x="28.3" y="204" width="48.7" height="22.5" rx="2.5" fill="#077f20"/>
<text x="37.16" y="222.6" fill="#fff" font-weight="normal" font-size="18.5" textLength="29.58" lengthAdjust="spacingAndGlyphs" stroke="#fff" stroke-width="1.0">Buy</text>
<rect x="5.5" y="314.3" width="21.3" height="22.5" fill="#f06a22"/>
<circle cx="16" cy="325.55" r="9.6" fill="none" stroke="#fff" stroke-width="1.1"/>
<path d="M11.8 321.35l8.4 8.4M20.2 321.35l-8.4 8.4" stroke="#fff" stroke-width="1.2" fill="none"/>
<rect x="28.3" y="314.3" width="43.7" height="22.5" rx="2" fill="#f06a22"/>
<text x="33.14" y="333.0" fill="#fff" font-weight="normal" font-size="18.5" textLength="24.63" lengthAdjust="spacingAndGlyphs" stroke="#fff" stroke-width="1.0">S/L</text>
<path d="M62.3 323.3l4.5 -7.6l4.5 7.6zM62.3 328.0l4.5 7.6l4.5 -7.6z" fill="#fff"/>
<rect x="5.5" y="376.5" width="21.3" height="22.5" fill="#077f20"/>
<circle cx="16" cy="387.75" r="9.6" fill="none" stroke="#fff" stroke-width="1.1"/>
<path d="M11.8 383.55l8.4 8.4M20.2 383.55l-8.4 8.4" stroke="#fff" stroke-width="1.2" fill="none"/>
<rect x="28.3" y="376.5" width="48.7" height="22.5" rx="2.5" fill="#077f20"/>
<text x="37.16" y="395.1" fill="#fff" font-weight="normal" font-size="18.5" textLength="29.58" lengthAdjust="spacingAndGlyphs" stroke="#fff" stroke-width="1.0">Buy</text>
<g fill="#1588f4" opacity="0.57">
<rect x="149" y="4" width="1" height="620.5"/><rect x="149" y="634.5" width="1" height="298.5"/>
<rect x="6" y="629" width="138.5" height="1"/><rect x="154.5" y="629" width="1312.5" height="1"/>
</g>
<rect x="146.5" y="626.5" width="6" height="6" fill="none" stroke="#1a88f0" stroke-width="1" shape-rendering="crispEdges"/>
<rect x="6" y="4.4" width="410.4" height="22.8" fill="#666260"/>
<rect x="6" y="4.4" width="409.4" height="21.8" fill="#878787"/>
<text y="23.1" fill="#fff" font-weight="normal" font-size="18.5" filter="url(#sh)" stroke="#fff" stroke-width="0.22" xml:space="preserve"><tspan x="7.70" textLength="74.43" lengthAdjust="spacingAndGlyphs">BIDCORP</tspan> <tspan x="89.10" textLength="84.14" lengthAdjust="spacingAndGlyphs">(O:269.85,</tspan> <tspan x="179.70" textLength="73.08" lengthAdjust="spacingAndGlyphs">H:271.30,</tspan> <tspan x="260.10" textLength="70.73" lengthAdjust="spacingAndGlyphs">L:256.07,</tspan> <tspan x="337.40" textLength="76.10" lengthAdjust="spacingAndGlyphs">C:261.08)</tspan></text>
<rect x="6" y="26.7" width="116.7" height="22.1" fill="#666260"/>
<rect x="6" y="26.7" width="115.7" height="21.1" fill="#878787"/>
<text y="45.4" fill="#fff" font-weight="normal" font-size="18.5" filter="url(#sh)" stroke="#fff" stroke-width="0.22" xml:space="preserve"><tspan x="7.50" textLength="36.57" lengthAdjust="spacingAndGlyphs">EMA</tspan>  <tspan x="54.40" textLength="66.93" lengthAdjust="spacingAndGlyphs">(273.89)</tspan></text>
<rect x="6" y="48.75" width="113.7" height="22.0" fill="#666260"/>
<rect x="6" y="48.75" width="112.7" height="21.0" fill="#878787"/>
<text y="67.5" fill="#fff" font-weight="normal" font-size="18.5" filter="url(#sh)" stroke="#fff" stroke-width="0.22" xml:space="preserve"><tspan x="7.50" textLength="36.57" lengthAdjust="spacingAndGlyphs">EMA</tspan>  <tspan x="54.40" textLength="63.93" lengthAdjust="spacingAndGlyphs">(271.35)</tspan></text>
<rect x="6" y="70.8" width="112.9" height="22.0" fill="#666260"/>
<rect x="6" y="70.8" width="111.9" height="21.0" fill="#878787"/>
<text y="89.5" fill="#fff" font-weight="normal" font-size="18.5" filter="url(#sh)" stroke="#fff" stroke-width="0.22" xml:space="preserve"><tspan x="7.50" textLength="36.57" lengthAdjust="spacingAndGlyphs">EMA</tspan>  <tspan x="54.40" textLength="62.73" lengthAdjust="spacingAndGlyphs">(267.41)</tspan></text>
<rect x="6" y="92.85000000000001" width="117.7" height="22.0" fill="#666260"/>
<rect x="6" y="92.85000000000001" width="116.7" height="21.0" fill="#878787"/>
<text y="111.6" fill="#fff" font-weight="normal" font-size="18.5" filter="url(#sh)" stroke="#fff" stroke-width="0.22" xml:space="preserve"><tspan x="7.50" textLength="36.57" lengthAdjust="spacingAndGlyphs">EMA</tspan>  <tspan x="54.40" textLength="67.73" lengthAdjust="spacingAndGlyphs">(268.25)</tspan></text>
<rect x="6" y="114.9" width="111.1" height="22.1" fill="#666260"/>
<rect x="6" y="114.9" width="110.1" height="21.1" fill="#878787"/>
<text y="133.6" fill="#fff" font-weight="normal" font-size="18.5" filter="url(#sh)" stroke="#fff" stroke-width="0.22" xml:space="preserve"><tspan x="7.50" textLength="36.57" lengthAdjust="spacingAndGlyphs">EMA</tspan>  <tspan x="54.40" textLength="60.93" lengthAdjust="spacingAndGlyphs">(271.16)</tspan></text>
<rect x="6" y="800.2" width="201.5" height="22.5" fill="#666260"/>
<rect x="6" y="800.2" width="200.5" height="21.5" fill="#878787"/>
<text y="818.8" fill="#fff" font-weight="normal" font-size="18.5" filter="url(#sh)" stroke="#fff" stroke-width="0.22" xml:space="preserve"><tspan x="7.30" textLength="59.16" lengthAdjust="spacingAndGlyphs">Volume</tspan>  <tspan x="77.10" textLength="128.50" lengthAdjust="spacingAndGlyphs">(69730000000)</tspan></text>
<text x="13.88" y="952.7" fill="#000" font-weight="normal" font-size="18.5" textLength="21.58" lengthAdjust="spacingAndGlyphs" stroke="#000" stroke-width="0.22">25</text>
<rect x="23" y="934" width="1" height="1.6" fill="#8f8a86"/>
<text x="44.89" y="952.7" fill="#000" font-weight="normal" font-size="18.5" textLength="17.57" lengthAdjust="spacingAndGlyphs" stroke="#000" stroke-width="0.22">01</text>
<rect x="53" y="934" width="1" height="1.6" fill="#8f8a86"/>
<text x="72.38" y="952.7" fill="#000" font-weight="normal" font-size="18.5" textLength="21.58" lengthAdjust="spacingAndGlyphs" stroke="#000" stroke-width="0.22">07</text>
<rect x="82" y="934" width="1" height="1.6" fill="#8f8a86"/>
<text x="206.38" y="952.7" fill="#000" font-weight="normal" font-size="18.5" textLength="21.58" lengthAdjust="spacingAndGlyphs" stroke="#000" stroke-width="0.22">05</text>
<rect x="215" y="934" width="1" height="1.6" fill="#8f8a86"/>
<text x="236.19" y="952.7" fill="#000" font-weight="normal" font-size="18.5" textLength="15.98" lengthAdjust="spacingAndGlyphs" stroke="#000" stroke-width="0.22">11</text>
<rect x="245" y="934" width="1" height="1.6" fill="#8f8a86"/>
<text x="265.89" y="952.7" fill="#000" font-weight="normal" font-size="18.5" textLength="17.57" lengthAdjust="spacingAndGlyphs" stroke="#000" stroke-width="0.22">15</text>
<rect x="274" y="934" width="1" height="1.6" fill="#8f8a86"/>
<text x="309.38" y="952.7" fill="#000" font-weight="normal" font-size="18.5" textLength="21.58" lengthAdjust="spacingAndGlyphs" stroke="#000" stroke-width="0.22">25</text>
<rect x="318" y="934" width="1" height="1.6" fill="#8f8a86"/>
<text x="346.89" y="952.7" fill="#000" font-weight="normal" font-size="18.5" textLength="17.57" lengthAdjust="spacingAndGlyphs" stroke="#000" stroke-width="0.22">01</text>
<rect x="355" y="934" width="1" height="1.6" fill="#8f8a86"/>
<text x="376.38" y="952.7" fill="#000" font-weight="normal" font-size="18.5" textLength="21.58" lengthAdjust="spacingAndGlyphs" stroke="#000" stroke-width="0.22">05</text>
<rect x="385" y="934" width="1" height="1.6" fill="#8f8a86"/>
<text x="420.89" y="952.7" fill="#000" font-weight="normal" font-size="18.5" textLength="17.57" lengthAdjust="spacingAndGlyphs" stroke="#000" stroke-width="0.22">15</text>
<rect x="429" y="934" width="1" height="1.6" fill="#8f8a86"/>
<text x="456.88" y="952.7" fill="#000" font-weight="normal" font-size="18.5" textLength="21.58" lengthAdjust="spacingAndGlyphs" stroke="#000" stroke-width="0.22">22</text>
<rect x="466" y="934" width="1" height="1.6" fill="#8f8a86"/>
<text x="494.89" y="952.7" fill="#000" font-weight="normal" font-size="18.5" textLength="17.57" lengthAdjust="spacingAndGlyphs" stroke="#000" stroke-width="0.22">01</text>
<rect x="503" y="934" width="1" height="1.6" fill="#8f8a86"/>
<text x="524.38" y="952.7" fill="#000" font-weight="normal" font-size="18.5" textLength="21.58" lengthAdjust="spacingAndGlyphs" stroke="#000" stroke-width="0.22">05</text>
<rect x="533" y="934" width="1" height="1.6" fill="#8f8a86"/>
<text x="568.89" y="952.7" fill="#000" font-weight="normal" font-size="18.5" textLength="17.57" lengthAdjust="spacingAndGlyphs" stroke="#000" stroke-width="0.22">15</text>
<rect x="577" y="934" width="1" height="1.6" fill="#8f8a86"/>
<text x="604.88" y="952.7" fill="#000" font-weight="normal" font-size="18.5" textLength="21.58" lengthAdjust="spacingAndGlyphs" stroke="#000" stroke-width="0.22">23</text>
<rect x="614" y="934" width="1" height="1.6" fill="#8f8a86"/>
<text x="641.88" y="952.7" fill="#000" font-weight="normal" font-size="18.5" textLength="21.58" lengthAdjust="spacingAndGlyphs" stroke="#000" stroke-width="0.22">30</text>
<rect x="651" y="934" width="1" height="1.6" fill="#8f8a86"/>
<text x="693.89" y="952.7" fill="#000" font-weight="normal" font-size="18.5" textLength="17.57" lengthAdjust="spacingAndGlyphs" stroke="#000" stroke-width="0.22">12</text>
<rect x="702" y="934" width="1" height="1.6" fill="#8f8a86"/>
<text x="737.88" y="952.7" fill="#000" font-weight="normal" font-size="18.5" textLength="21.58" lengthAdjust="spacingAndGlyphs" stroke="#000" stroke-width="0.22">20</text>
<rect x="747" y="934" width="1" height="1.6" fill="#8f8a86"/>
<text x="767.88" y="952.7" fill="#000" font-weight="normal" font-size="18.5" textLength="21.58" lengthAdjust="spacingAndGlyphs" stroke="#000" stroke-width="0.22">26</text>
<rect x="776" y="934" width="1" height="1.6" fill="#8f8a86"/>
<text x="811.88" y="952.7" fill="#000" font-weight="normal" font-size="18.5" textLength="21.58" lengthAdjust="spacingAndGlyphs" stroke="#000" stroke-width="0.22">05</text>
<rect x="821" y="934" width="1" height="1.6" fill="#8f8a86"/>
<text x="871.89" y="952.7" fill="#000" font-weight="normal" font-size="18.5" textLength="17.57" lengthAdjust="spacingAndGlyphs" stroke="#000" stroke-width="0.22">17</text>
<rect x="880" y="934" width="1" height="1.6" fill="#8f8a86"/>
<text x="914.88" y="952.7" fill="#000" font-weight="normal" font-size="18.5" textLength="21.58" lengthAdjust="spacingAndGlyphs" stroke="#000" stroke-width="0.22">25</text>
<rect x="924" y="934" width="1" height="1.6" fill="#8f8a86"/>
<text x="945.89" y="952.7" fill="#000" font-weight="normal" font-size="18.5" textLength="17.57" lengthAdjust="spacingAndGlyphs" stroke="#000" stroke-width="0.22">31</text>
<rect x="954" y="934" width="1" height="1.6" fill="#8f8a86"/>
<text x="981.38" y="952.7" fill="#000" font-weight="normal" font-size="18.5" textLength="21.58" lengthAdjust="spacingAndGlyphs" stroke="#000" stroke-width="0.22">07</text>
<rect x="991" y="934" width="1" height="1.6" fill="#8f8a86"/>
<text x="1026.59" y="952.7" fill="#000" font-weight="normal" font-size="18.5" textLength="17.57" lengthAdjust="spacingAndGlyphs" stroke="#000" stroke-width="0.22">15</text>
<rect x="1035" y="934" width="1" height="1.6" fill="#8f8a86"/>
<text x="1077.88" y="952.7" fill="#000" font-weight="normal" font-size="18.5" textLength="21.58" lengthAdjust="spacingAndGlyphs" stroke="#000" stroke-width="0.22">25</text>
<rect x="1087" y="934" width="1" height="1.6" fill="#8f8a86"/>
<text x="1107.89" y="952.7" fill="#000" font-weight="normal" font-size="18.5" textLength="17.57" lengthAdjust="spacingAndGlyphs" stroke="#000" stroke-width="0.22">01</text>
<rect x="1116" y="934" width="1" height="1.6" fill="#8f8a86"/>
<text x="1159.59" y="952.7" fill="#000" font-weight="normal" font-size="18.5" textLength="17.57" lengthAdjust="spacingAndGlyphs" stroke="#000" stroke-width="0.22">12</text>
<rect x="1168" y="934" width="1" height="1.6" fill="#8f8a86"/>
<text x="1203.38" y="952.7" fill="#000" font-weight="normal" font-size="18.5" textLength="21.58" lengthAdjust="spacingAndGlyphs" stroke="#000" stroke-width="0.22">20</text>
<rect x="1212" y="934" width="1" height="1.6" fill="#8f8a86"/>
<text x="1233.38" y="952.7" fill="#000" font-weight="normal" font-size="18.5" textLength="21.58" lengthAdjust="spacingAndGlyphs" stroke="#000" stroke-width="0.22">26</text>
<rect x="1242" y="934" width="1" height="1.6" fill="#8f8a86"/>
<text x="1262.58" y="952.7" fill="#000" font-weight="normal" font-size="18.5" textLength="21.58" lengthAdjust="spacingAndGlyphs" stroke="#000" stroke-width="0.22">30</text>
<rect x="1271" y="934" width="1" height="1.6" fill="#8f8a86"/>
<text x="1292.58" y="952.7" fill="#000" font-weight="normal" font-size="18.5" textLength="21.58" lengthAdjust="spacingAndGlyphs" stroke="#000" stroke-width="0.22">05</text>
<rect x="1301" y="934" width="1" height="1.6" fill="#8f8a86"/>
<text x="1330.39" y="952.7" fill="#000" font-weight="normal" font-size="18.5" textLength="17.57" lengthAdjust="spacingAndGlyphs" stroke="#000" stroke-width="0.22">10</text>
<rect x="1338" y="934" width="1" height="1.6" fill="#8f8a86"/>
<text x="1366.89" y="952.7" fill="#000" font-weight="normal" font-size="18.5" textLength="17.57" lengthAdjust="spacingAndGlyphs" stroke="#000" stroke-width="0.22">15</text>
<rect x="1375" y="934" width="1" height="1.6" fill="#8f8a86"/>
<text x="1402.88" y="952.7" fill="#000" font-weight="normal" font-size="18.5" textLength="21.58" lengthAdjust="spacingAndGlyphs" stroke="#000" stroke-width="0.22">20</text>
<rect x="1412" y="934" width="1" height="1.6" fill="#8f8a86"/>
<text x="1438.38" y="952.7" fill="#000" font-weight="normal" font-size="18.5" textLength="21.58" lengthAdjust="spacingAndGlyphs" stroke="#000" stroke-width="0.22">25</text>
<rect x="1448" y="934" width="1" height="1.6" fill="#8f8a86"/>
<text x="39.50" y="973.7" fill="#000" font-weight="normal" font-size="18.5" textLength="30.42" lengthAdjust="spacingAndGlyphs" stroke="#000" stroke-width="0.22">Dec</text>
<text x="189.01" y="973.7" fill="#000" font-weight="normal" font-size="18.5" textLength="41.41" lengthAdjust="spacingAndGlyphs" stroke="#000" stroke-width="0.22">2021</text>
<text x="341.75" y="973.7" fill="#000" font-weight="normal" font-size="18.5" textLength="29.90" lengthAdjust="spacingAndGlyphs" stroke="#000" stroke-width="0.22">Feb</text>
<text x="489.51" y="973.7" fill="#000" font-weight="normal" font-size="18.5" textLength="31.37" lengthAdjust="spacingAndGlyphs" stroke="#000" stroke-width="0.22">Mar</text>
<text x="654.00" y="973.7" fill="#000" font-weight="normal" font-size="18.5" textLength="27.43" lengthAdjust="spacingAndGlyphs" stroke="#000" stroke-width="0.22">Apr</text>
<text x="792.00" y="973.7" fill="#000" font-weight="normal" font-size="18.5" textLength="33.34" lengthAdjust="spacingAndGlyphs" stroke="#000" stroke-width="0.22">May</text>
<text x="952.99" y="973.7" fill="#000" font-weight="normal" font-size="18.5" textLength="24.38" lengthAdjust="spacingAndGlyphs" stroke="#000" stroke-width="0.22">Jun</text>
<text x="1110.24" y="973.7" fill="#000" font-weight="normal" font-size="18.5" textLength="19.93" lengthAdjust="spacingAndGlyphs" stroke="#000" stroke-width="0.22">Jul</text>
<text x="1267.00" y="973.7" fill="#000" font-weight="normal" font-size="18.5" textLength="30.44" lengthAdjust="spacingAndGlyphs" stroke="#000" stroke-width="0.22">Aug</text>
<rect x="98" y="935.3" width="103.5" height="40" rx="2" fill="#a0a0a0"/>
<rect x="98" y="935.3" width="103.5" height="1" fill="#8c8c8c"/>
<text x="126.35" y="952.7" fill="#fff" font-weight="normal" font-size="18.5" textLength="44.74" lengthAdjust="spacingAndGlyphs" stroke="#fff" stroke-width="0.42">16:50</text>
<text x="99.60" y="973.6" fill="#fff" font-weight="normal" font-size="18.5" textLength="99.24" lengthAdjust="spacingAndGlyphs" stroke="#fff" stroke-width="0.42">21 Dec 2020</text>
</svg>
</body></html>
